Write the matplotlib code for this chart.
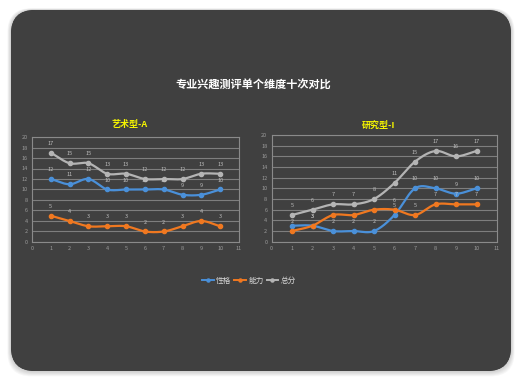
import numpy as np
import matplotlib
matplotlib.use("Agg")
import matplotlib.pyplot as plt
from matplotlib.patches import FancyBboxPatch
from matplotlib.lines import Line2D

plt.rcParams['font.family'] = ['Noto Sans CJK SC', 'DejaVu Sans']

title = "专业兴趣测评单个维度十次对比"
series_names = ["性格", "能力", "总分"]
colors = ["#4A90D9", "#F07820", "#B4B4B4"]
x_vals = [1, 2, 3, 4, 5, 6, 7, 8, 9, 10]

art_title = "艺术型-A"
art_xingge = [12, 11, 12, 10, 10, 10, 10, 9, 9, 10]
art_nengli = [5, 4, 3, 3, 3, 2, 2, 3, 4, 3]
art_zongfen = [17, 15, 15, 13, 13, 12, 12, 12, 13, 13]

res_title = "研究型-I"
res_xingge = [3, 3, 2, 2, 2, 5, 10, 10, 9, 10]
res_nengli = [2, 3, 5, 5, 6, 6, 5, 7, 7, 7]
res_zongfen = [5, 6, 7, 7, 8, 11, 15, 17, 16, 17]


def smooth(x, y, n=20):
    # catmull-rom curve through the points, only for drawing the line
    x = np.asarray(x, float)
    y = np.asarray(y, float)
    px = np.concatenate([[2 * x[0] - x[1]], x, [2 * x[-1] - x[-2]]])
    py = np.concatenate([[2 * y[0] - y[1]], y, [2 * y[-1] - y[-2]]])
    xs, ys = [], []
    t = np.linspace(0, 1, n, endpoint=False)
    for i in range(1, len(px) - 2):
        for p, out in ((px, xs), (py, ys)):
            p0, p1, p2, p3 = p[i - 1], p[i], p[i + 1], p[i + 2]
            out.extend(0.5 * (2 * p1 + (-p0 + p2) * t
                              + (2 * p0 - 5 * p1 + 4 * p2 - p3) * t ** 2
                              + (-p0 + 3 * p1 - 3 * p2 + p3) * t ** 3))
    xs.append(x[-1])
    ys.append(y[-1])
    return np.array(xs), np.array(ys)


fig = plt.figure(figsize=(5.22, 3.82), dpi=100)
fig.patch.set_facecolor("white")

# background card
bg = fig.add_axes([0, 0, 1, 1])
bg.set_xlim(0, 522)
bg.set_ylim(382, 0)
bg.axis("off")
for k in range(6, 0, -1):
    sh = FancyBboxPatch((11 - k * 0.6, 10 - k * 0.3), 500 + k * 1.2, 361 + k * 1.2,
                        boxstyle="round,pad=0,rounding_size=24",
                        facecolor="black", edgecolor="none", alpha=0.03)
    bg.add_patch(sh)
card = FancyBboxPatch((11, 10), 500, 361, boxstyle="round,pad=0,rounding_size=24",
                      facecolor="#404040", edgecolor="none")
bg.add_patch(card)
gx, gy = np.meshgrid(np.linspace(0, 522, 300), np.linspace(0, 382, 220))
d = np.sqrt(((gx - 260) / 300) ** 2 + ((gy - 140) / 230) ** 2)
val = np.clip(0.345 - 0.085 * d, 0.245, 0.345)
img = bg.imshow(np.dstack([val, val, val]), extent=[0, 522, 382, 0], aspect="auto",
                interpolation="bilinear")
img.set_clip_path(card)

fig.text(0.485, 1 - 85 / 382, title, color="white", fontsize=8, fontweight="bold",
         ha="center", va="center")


def draw_panel(rect, name, data, title_x):
    ax = fig.add_axes(rect)
    ax.set_facecolor("none")
    ax.set_xlim(0, 11)
    ax.set_ylim(0, 20)
    ax.set_xticks(range(0, 12))
    ax.set_yticks(range(0, 21, 2))
    ax.yaxis.grid(True, color="#7E7E7E", linewidth=0.8)
    ax.set_axisbelow(True)
    for s in ax.spines.values():
        s.set_color("#8A8A8A")
        s.set_linewidth(0.8)
    ax.tick_params(colors="#9A9A9A", labelsize=4, length=0, pad=3)
    for vals, c in zip(data, colors):
        sx, sy = smooth(x_vals, vals)
        ax.plot(sx, sy, color=c, linewidth=1.6, solid_capstyle="round")
        ax.plot(x_vals, vals, "o", color=c, markersize=3)
        for xv, yv in zip(x_vals, vals):
            ax.annotate(str(yv), (xv, yv), xytext=(0, 5), textcoords="offset points",
                        ha="center", va="bottom", fontsize=4, color="#BDBDBD")
    fig.text(title_x, 1 - 125 / 382, name, color="#F5F500", fontsize=6.5,
             fontweight="bold", ha="center", va="center")
    return ax


draw_panel([32 / 522, 1 - 242 / 382, 207 / 522, 105 / 382], art_title,
           [art_xingge, art_nengli, art_zongfen], 130 / 522)
draw_panel([271.5 / 522, 1 - 241.7 / 382, 225.5 / 522, 106.7 / 382], res_title,
           [res_xingge, res_nengli, res_zongfen], 378 / 522)

handles = [Line2D([0], [0], color=c, linewidth=1.4, marker="o", markersize=2.2)
           for c in colors]
leg = fig.legend(handles, series_names, loc="center", bbox_to_anchor=(249 / 522, 1 - 281 / 382),
                 ncol=3, frameon=False, fontsize=5.5, handlelength=1.5, handletextpad=0.3,
                 columnspacing=0.4)
for t in leg.get_texts():
    t.set_color("#D8D8D8")

fig.savefig("out.png", dpi=100)
